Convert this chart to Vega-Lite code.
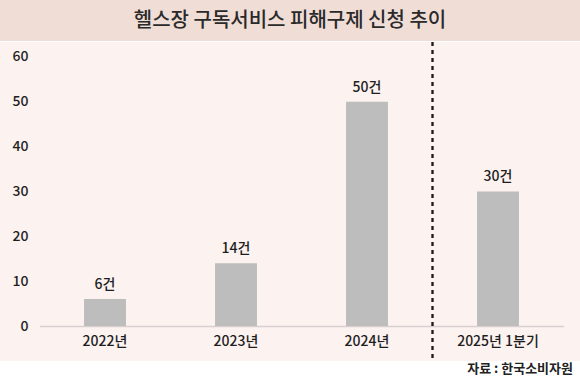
{
  "$schema": "https://vega.github.io/schema/vega-lite/v6.json",
  "padding": 0,
  "spacing": 0,
  "background": "#FFFFFF",
  "config": {
    "font": "Noto Sans CJK KR",
    "view": {"stroke": null},
    "concat": {"spacing": 0}
  },
  "title": {
    "text": "자료 : 한국소비자원",
    "orient": "bottom",
    "anchor": "end",
    "fontSize": 13,
    "fontWeight": "bold",
    "color": "#222222",
    "offset": 1,
    "dx": -7
  },
  "vconcat": [
    {
      "width": 580,
      "height": 41,
      "view": {"fill": "#F0DDD6", "stroke": null},
      "data": {"values": [{"t": "헬스장 구독서비스 피해구제 신청 추이"}]},
      "mark": {"type": "text", "fontSize": 20, "fontWeight": 500, "color": "#2A2A2A", "baseline": "middle", "align": "center"},
      "encoding": {"text": {"field": "t"}}
    },
    {
      "width": 580,
      "height": 319,
      "view": {"fill": "#FCF2F0", "stroke": null},
      "data": {"values": [
        {"period": "2022년", "count": 6, "label": "6건"},
        {"period": "2023년", "count": 14, "label": "14건"},
        {"period": "2024년", "count": 50, "label": "50건"},
        {"period": "2025년 1분기", "count": 30, "label": "30건"}
      ]},
      "encoding": {
        "x": {
          "field": "period",
          "type": "nominal",
          "sort": null,
          "scale": {"range": [39.5, 563.5], "paddingInner": 0, "paddingOuter": 0},
          "axis": {
            "title": null,
            "orient": "bottom",
            "offset": -35,
            "ticks": false,
            "domain": true,
            "domainColor": "#D8D0CE",
            "domainWidth": 1.5,
            "labelFontSize": 14,
            "labelFontWeight": 500,
            "labelColor": "#1E1E1E",
            "labelPadding": 8,
            "labelAngle": 0,
            "grid": false
          }
        }
      },
      "layer": [
        {
          "mark": {"type": "bar", "color": "#BDBDBD", "width": {"band": 0.32}},
          "encoding": {
            "y": {
              "field": "count",
              "type": "quantitative",
              "scale": {"domain": [-7.8, 63.31], "nice": false, "zero": false},
              "axis": {
                "title": null,
                "orient": "left",
                "offset": -30,
                "values": [0, 10, 20, 30, 40, 50, 60],
                "ticks": false,
                "domain": false,
                "grid": false,
                "labelFontSize": 14,
                "labelFontWeight": 500,
                "labelColor": "#1E1E1E",
                "labelPadding": 2
              }
            }
          }
        },
        {
          "mark": {"type": "text", "fontSize": 14, "fontWeight": 500, "color": "#1E1E1E", "baseline": "alphabetic", "dy": -10},
          "encoding": {
            "y": {"field": "count", "type": "quantitative"},
            "text": {"field": "label"}
          }
        },
        {
          "mark": {"type": "rule", "color": "#1E1E1E", "strokeWidth": 1.5, "strokeDash": [4, 4]},
          "encoding": {
            "x": {"datum": "2024년", "bandPosition": 1}
          }
        }
      ]
    }
  ]
}
